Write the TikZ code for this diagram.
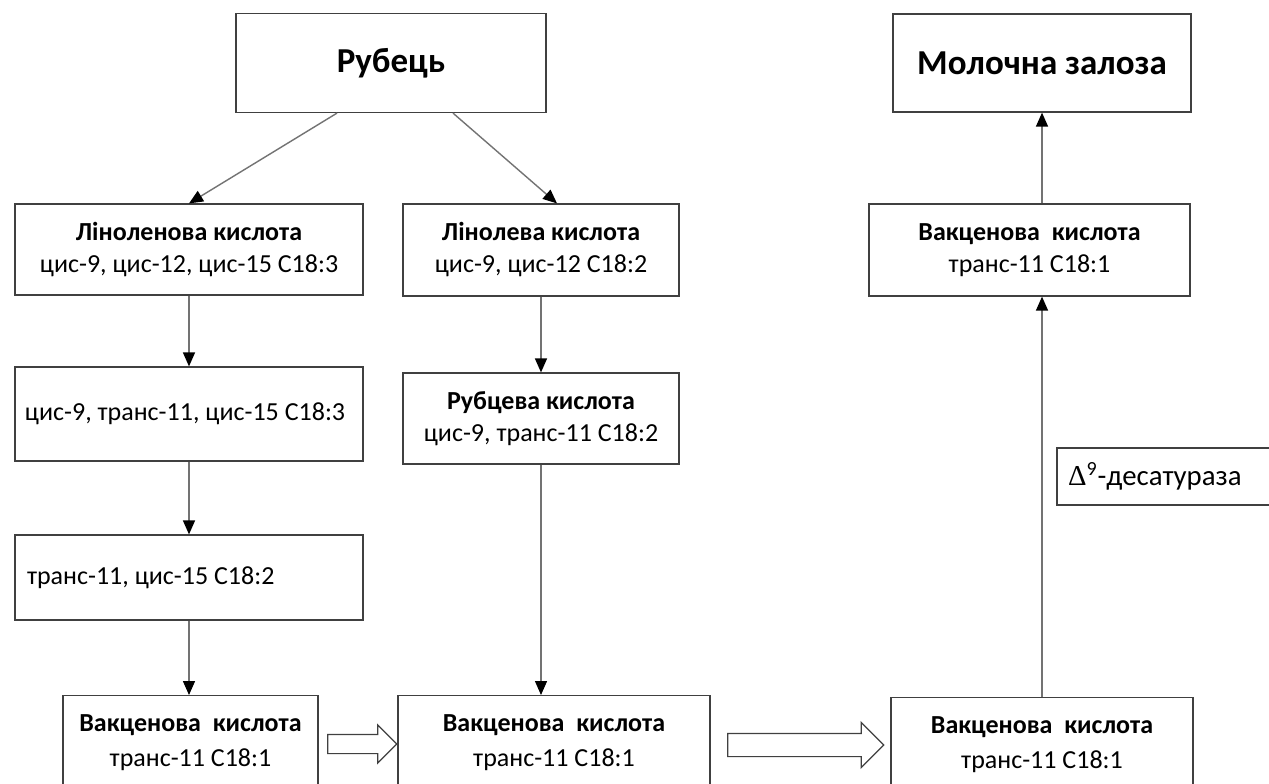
\documentclass[tikz,border=0pt]{standalone}
\usepackage{fontspec}
\setmainfont{Carlito}
\newfontfamily\greekserif{Liberation Serif}
\usetikzlibrary{arrows.meta,positioning,shapes.arrows}
\newcommand\hd[1]{{\bfseries #1}}

\begin{document}
\begin{tikzpicture}[
  x=0.5pt, y=-0.5pt,
  box/.style={draw=black!75, line width=0.6pt, align=center, inner sep=0pt,
    font=\fontsize{13}{16}\selectfont},
  title/.style={box, font=\fontsize{17.5}{21}\selectfont\bfseries},
  leftbox/.style={box, align=flush left, inner xsep=6pt},
  bottombox/.style={box, anchor=north, minimum height=47pt,
    font=\fontsize{13}{17.5}\selectfont},
  arrow/.style={-{Triangle[length=7pt, width=6pt, color=black]}, draw=black!55,
    line width=0.7pt},
  hollowarrow/.style={single arrow, draw=black!75, line width=0.6pt, inner xsep=0pt,
    single arrow head indent=0pt}
]
\path[use as bounding box, clip] (0,0) rectangle (1269,783);
\fill[white] (0,0) rectangle (1269,783);

% top row
\node[title, minimum width=155pt, minimum height=49.5pt] (rumen) at (391,63) {Рубець};
\node[title, minimum width=149pt, minimum height=49pt] (gland) at (1042,63) {Молочна залоза};

% left column
\node[box, minimum width=174pt, minimum height=45.5pt] (linolen) at (189,249.5)
  {\hd{Ліноленова кислота}\\цис-9, цис-12, цис-15 С18:3};
\node[leftbox, inner xsep=5pt, text width=164pt, minimum height=47pt] (inter1) at (189,414)
  {цис-9, транс-11, цис-15 С18:3};
\node[leftbox, text width=162pt, minimum height=42.5pt] (inter2) at (189,577.5)
  {транс-11, цис-15 С18:2};

% middle column
\node[box, minimum width=138pt, minimum height=46pt] (linol) at (541,250)
  {\hd{Лінолева кислота}\\цис-9, цис-12 С18:2};
\node[box, minimum width=138pt, minimum height=45.5pt] (rumenic) at (541,418.5)
  {\hd{Рубцева кислота}\\цис-9, транс-11 С18:2};

% right column
\node[box, minimum width=160.5pt, minimum height=46pt] (vactop) at (1029.5,250)
  {\hd{Вакценова~ кислота}\\транс-11 С18:1};
\node[leftbox, inner xsep=5.5pt, text width=100pt, minimum height=28.5pt,
  font=\fontsize{14.4}{17}\selectfont] (desat) at (1168,476.5)
  {{\greekserif Δ}\textsuperscript{9}-десатураза};

% bottom row
\node[bottombox, minimum width=127.5pt] (vacl) at (190.5,695)
  {\hd{Вакценова~ кислота}\\транс-11 С18:1};
\node[bottombox, minimum width=156pt] (vacm) at (554,695)
  {\hd{Вакценова~ кислота}\\транс-11 С18:1};
\node[bottombox, minimum width=151pt] (vacr) at (1042,697)
  {\hd{Вакценова~ кислота}\\транс-11 С18:1};

\node[hollowarrow, minimum height=34.5pt, inner ysep=4.5pt, single arrow head extend=4.75pt] (shifta) at (357.5,744) {};
\node[hollowarrow, minimum height=78pt, inner ysep=5.5pt, single arrow head extend=5.5pt] (shiftb) at (800,745) {};

% connectors
\draw[arrow] ([xshift=-27pt]rumen.south) -- (linolen.north);
\draw[arrow] ([xshift=31pt]rumen.south) -- ([xshift=8pt]linol.north);
\draw[arrow] (linolen.south) -- (inter1.north);
\draw[arrow] (inter1.south) -- (inter2.north);
\draw[arrow] (inter2.south) -- (inter2.south |- vacl.north);
\draw[arrow] (linol.south) -- (rumenic.north);
\draw[arrow] (rumenic.south) -- (rumenic.south |- vacm.north);
\draw[arrow] (vacr.north) -- (vacr.north |- vactop.south);
\draw[arrow] (gland.south |- vactop.north) -- (gland.south);
\end{tikzpicture}
\end{document}
